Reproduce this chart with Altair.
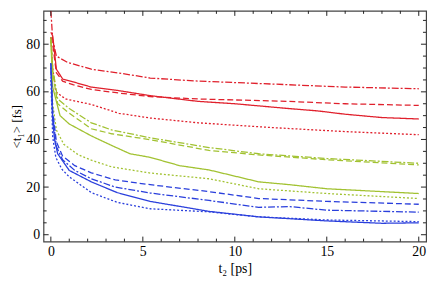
import altair as alt
import pandas as pd

# ---- data ----
red_dashdot_t = [0, 0.1, 0.3, 0.9, 2.2, 3.7, 5.4, 8, 12.9, 16, 20]
red_dashdot_v = [94, 82, 75, 72.4, 69.5, 67.9, 65.8, 64.5, 63, 62, 61.3]

red_solid_t = [0, 0.1, 0.3, 0.64, 1.2, 2.2, 3.7, 5.4, 8, 10, 12.9, 14.5, 16, 18, 20]
red_solid_v = [85, 83.5, 69.5, 65.4, 64.2, 62, 60.5, 58.4, 56, 55, 53, 52, 50.6, 49.2, 48.6]

red_dashed_t = [0, 0.1, 0.3, 0.64, 1.2, 2.2, 3.7, 5.4, 8, 12.9, 16, 20]
red_dashed_v = [83, 80, 68, 64.5, 63, 61, 59.5, 58, 57, 56, 55, 54.3]

red_dotted_t = [0, 0.1, 0.27, 0.8, 2.2, 3.7, 5.4, 8, 12, 16, 20]
red_dotted_v = [83, 70, 60, 57, 54.7, 51, 49, 47, 45, 43.3, 42]

green_dashdot_t = [0, 0.1, 0.37, 1, 2.2, 3.3, 5.4, 8.6, 11.3, 15, 20]
green_dashdot_v = [83, 70, 57, 53, 47, 44, 40.7, 36.6, 34, 32, 30]

green_dashed_t = [0, 0.1, 0.37, 1, 2.2, 3.3, 5.4, 8.6, 11.3, 15, 20]
green_dashed_v = [82, 68, 55, 51, 44.5, 42.4, 39.9, 35.4, 33.5, 31.5, 29.3]

green_solid_t = [0, 0.1, 0.5, 1, 2.2, 3.3, 4.3, 5.4, 7, 8.6, 11.3, 13, 15, 17, 20]
green_solid_v = [82, 62, 50, 46.5, 41.5, 37.5, 34, 32.5, 29, 27.2, 22.2, 21, 19.3, 18.5, 17.3]

green_dotted_t = [0, 0.1, 0.3, 0.7, 1.5, 2.2, 3.3, 5.4, 8.6, 11.3, 15, 20]
green_dotted_v = [72, 55, 44, 38, 33.5, 31.3, 28.5, 25.9, 23.5, 19.3, 17.3, 15.2]

blue_dashed_t = [0, 0.1, 0.3, 0.64, 1.3, 2.2, 3.5, 5.4, 8.6, 11.3, 15, 20]
blue_dashed_v = [72, 52, 39, 33, 29, 26, 23, 21, 18.1, 15.2, 14, 12.8]

blue_dashdot_t = [0, 0.1, 0.3, 0.64, 1.3, 2.2, 3.5, 5.4, 8.6, 11.3, 13, 15, 20]
blue_dashdot_v = [70, 50, 37, 31.5, 27, 23.5, 20, 17.5, 14.4, 11.5, 11.8, 10.3, 9.5]

blue_solid_t = [0, 0.1, 0.2, 0.37, 1, 2.2, 3.6, 5.4, 8.6, 11.3, 15, 18, 20]
blue_solid_v = [72, 48, 40, 34, 27, 22.2, 17.7, 14, 9.8, 7.5, 5.8, 4.8, 5]

blue_dotted_t = [0, 0.1, 0.27, 0.6, 1, 2.2, 3.6, 5.4, 8.6, 11.3, 15, 20]
blue_dotted_v = [65, 41, 32.5, 27.5, 24.3, 17.7, 13.6, 10.9, 9.6, 7.5, 6.2, 5.5]

x_major = [0, 5, 10, 15, 20]
x_minor = [i for i in range(1, 20) if i % 5 != 0]
y_major = [0, 20, 40, 60, 80]
y_minor = [5, 10, 15, 25, 30, 35, 45, 50, 55, 65, 70, 75, 85, 90]

series = [
    ("red", "dashdot", red_dashdot_t, red_dashdot_v),
    ("red", "dashed", red_dashed_t, red_dashed_v),
    ("red", "dotted", red_dotted_t, red_dotted_v),
    ("red", "solid", red_solid_t, red_solid_v),
    ("green", "dashdot", green_dashdot_t, green_dashdot_v),
    ("green", "dashed", green_dashed_t, green_dashed_v),
    ("green", "dotted", green_dotted_t, green_dotted_v),
    ("green", "solid", green_solid_t, green_solid_v),
    ("blue", "dashdot", blue_dashdot_t, blue_dashdot_v),
    ("blue", "dashed", blue_dashed_t, blue_dashed_v),
    ("blue", "dotted", blue_dotted_t, blue_dotted_v),
    ("blue", "solid", blue_solid_t, blue_solid_v),
]

rows = []
for color, style, ts, vs in series:
    for t, v in zip(ts, vs):
        rows.append({"t": t, "v": v, "color": color, "style": style, "key": color + style})
df = pd.DataFrame(rows)

XMIN, XMAX = -0.4, 20.4
YMIN, YMAX = -2.9, 94.0
xscale = alt.Scale(domain=[XMIN, XMAX], nice=False, zero=False)
yscale = alt.Scale(domain=[YMIN, YMAX], nice=False, zero=False)

FONT = "Liberation Serif"

lines = alt.Chart(df).mark_line(strokeWidth=1.3, clip=True).encode(
    x=alt.X("t:Q", scale=xscale,
            axis=alt.Axis(values=x_major, ticks=False, domain=False, grid=False,
                          labelFont=FONT, labelFontSize=14, labelColor="black",
                          labelPadding=3, title="t₂ [ps]", titleFont=FONT,
                          titleFontSize=14, titleFontWeight="normal",
                          titleColor="black", titlePadding=3)),
    y=alt.Y("v:Q", scale=yscale,
            axis=alt.Axis(values=y_major, ticks=False, domain=False, grid=False,
                          labelFont=FONT, labelFontSize=14, labelColor="black",
                          labelPadding=4, title="<t₁> [fs]", titleFont=FONT,
                          titleFontSize=13, titleFontWeight="normal",
                          titleColor="black", titlePadding=2)),
    color=alt.Color("color:N", legend=None,
                    scale=alt.Scale(domain=["red", "green", "blue"],
                                    range=["#e0202c", "#a2c232", "#2a3fdc"])),
    strokeDash=alt.StrokeDash("style:N", legend=None,
                              scale=alt.Scale(domain=["solid", "dashed", "dotted", "dashdot"],
                                              range=[[1, 0], [6, 3], [2, 2], [7, 2, 2, 2]])),
    detail="key:N",
    order="t:Q",
)

# inward frame ticks built from tick lists
xmaj_len, xmin_len = 2.1, 1.25   # in y units
ymaj_len, ymin_len = 0.28, 0.17  # in x units
tick_rows = []
for p in x_major + x_minor:
    L = xmaj_len if p in x_major else xmin_len
    tick_rows.append({"tx": p, "tx2": p, "ty": YMIN, "ty2": YMIN + L})
    tick_rows.append({"tx": p, "tx2": p, "ty": YMAX, "ty2": YMAX - L})
for p in y_major + y_minor:
    L = ymaj_len if p in y_major else ymin_len
    tick_rows.append({"tx": XMIN, "tx2": XMIN + L, "ty": p, "ty2": p})
    tick_rows.append({"tx": XMAX, "tx2": XMAX - L, "ty": p, "ty2": p})
ticks_df = pd.DataFrame(tick_rows)

ticks = alt.Chart(ticks_df).mark_rule(color="#222222", strokeWidth=1).encode(
    x=alt.X("tx:Q", scale=xscale), x2="tx2:Q",
    y=alt.Y("ty:Q", scale=yscale), y2="ty2:Q",
)

chart = alt.layer(lines, ticks).properties(
    width=388, height=234,
    autosize=alt.AutoSizeParams(type="none"),
    padding={"left": 36, "top": 1, "right": 8, "bottom": 37},
    background="white",
).configure_view(stroke="#444444", strokeWidth=1.2)

chart.save("out.html", embed_options={"renderer": "svg", "actions": False})
